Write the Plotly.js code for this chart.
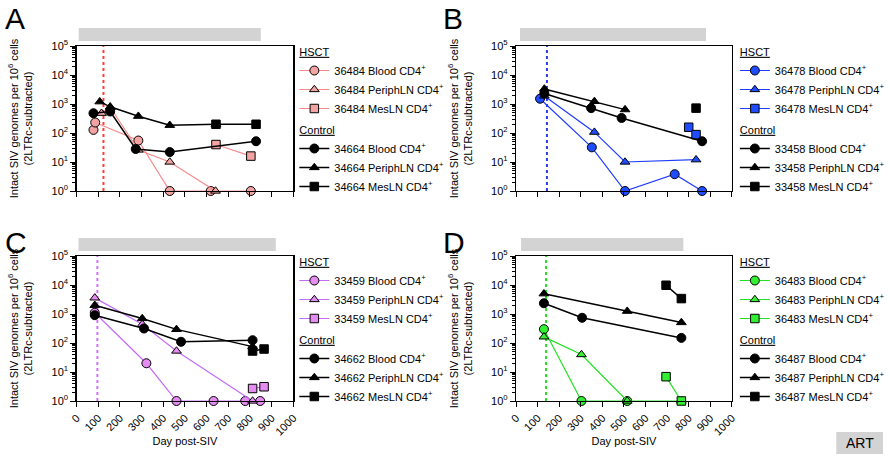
<!DOCTYPE html>
<html>
<head>
<meta charset="utf-8">
<script src="https://cdn.plot.ly/plotly-3.0.1.min.js"></script>
<style>html,body{margin:0;padding:0;background:#fff;}#chart{width:890px;height:458px;}</style>
</head>
<body>
<div id="chart"></div>
<script>
// ---------------- DATA ----------------
const panelLetters = ['A', 'B', 'C', 'D'];
const animalsHSCT = ['36484', '36478', '33459', '36483'];
const animalsControl = ['34664', '33458', '34662', '36487'];
const tissues = ['Blood', 'PeriphLN', 'MesLN'];
const artStart = [10, 18, 9, 23];
const artEnd = [850, 880, 919, 775];
const hsctDay = [124, 143, 96, 139];
const xTickVals = [0, 100, 200, 300, 400, 500, 600, 700, 800, 900, 1000];
const yTickVals = [1, 10, 100, 1000, 10000, 100000];
const yTickText = ['10<sup>0</sup>', '10<sup>1</sup>', '10<sup>2</sup>', '10<sup>3</sup>', '10<sup>4</sup>', '10<sup>5</sup>'];

// Panel A
const A_hsctBlood_x = [78, 86, 285, 430, 619, 804];
const A_hsctBlood_y = [128, 230, 55, 1, 1, 1];
const A_hsctPeriph_x = [115, 156, 285, 430, 641];
const A_hsctPeriph_y = [480, 760, 26, 10, 1];
const A_hsctMes_x = [643, 804];
const A_hsctMes_y = [40, 16];
const A_ctrlBlood_x = [78, 155, 273, 430, 828];
const A_ctrlBlood_y = [480, 550, 28, 22, 52];
const A_ctrlPeriph_x = [107, 155, 285, 430, 643];
const A_ctrlPeriph_y = [1200, 800, 380, 185, 200];
const A_ctrlMes_x = [643, 828];
const A_ctrlMes_y = [200, 200];

// Panel B
const B_hsctBlood_x = [111, 351, 505, 735, 862];
const B_hsctBlood_y = [1520, 32, 1, 3.8, 1];
const B_hsctPeriph_x = [131, 363, 505, 834];
const B_hsctPeriph_y = [1900, 107, 10, 12];
const B_hsctMes_x = [800, 834];
const B_hsctMes_y = [158, 88];
const B_ctrlBlood_x = [131, 348, 489, 862];
const B_ctrlBlood_y = [2300, 720, 330, 52];
const B_ctrlPeriph_x = [131, 363, 505];
const B_ctrlPeriph_y = [3300, 1230, 640];
const B_ctrlMes_x = [834];
const B_ctrlMes_y = [720];

// Panel C
const C_hsctBlood_x = [84, 322, 461, 632, 778, 847];
const C_hsctBlood_y = [1100, 20, 1, 1, 1, 1];
const C_hsctPeriph_x = [84, 303, 461, 812];
const C_hsctPeriph_y = [3600, 440, 53, 1];
const C_hsctMes_x = [812, 865];
const C_hsctMes_y = [2.7, 3.1];
const C_ctrlBlood_x = [84, 311, 482, 812];
const C_ctrlBlood_y = [910, 316, 110, 125];
const C_ctrlPeriph_x = [84, 303, 461, 812];
const C_ctrlPeriph_y = [2000, 700, 295, 75];
const C_ctrlMes_x = [812, 865];
const C_ctrlMes_y = [53, 62];

// Panel D
const D_hsctBlood_x = [129, 303, 515];
const D_hsctBlood_y = [300, 1, 1];
const D_hsctPeriph_x = [129, 303, 515, 766];
const D_hsctPeriph_y = [163, 40, 1, 1];
const D_hsctMes_x = [695, 766];
const D_hsctMes_y = [6.9, 1];
const D_ctrlBlood_x = [129, 306, 766];
const D_ctrlBlood_y = [2350, 740, 150];
const D_ctrlPeriph_x = [129, 515, 766];
const D_ctrlPeriph_y = [5000, 1250, 510];
const D_ctrlMes_x = [695, 766];
const D_ctrlMes_y = [9800, 3400];

// ---------------- STYLE / LAYOUT ----------------
const FONT = 'Arial, "Liberation Sans", sans-serif';
const FS = 11;
const W = 890, H = 458;
const colorSets = [
  {fill: '#f4a3a3', line: '#f7898a', dot: '#ff3b3b'},
  {fill: '#1f4cff', line: '#1f3cff', dot: '#2a3cf0'},
  {fill: '#e58cf0', line: '#c46cf7', dot: '#d070ff'},
  {fill: '#33ee33', line: '#22e022', dot: '#22dd22'}
];
const panelData = [
  {hsct: [[A_hsctBlood_x, A_hsctBlood_y], [A_hsctPeriph_x, A_hsctPeriph_y], [A_hsctMes_x, A_hsctMes_y]],
   ctrl: [[A_ctrlBlood_x, A_ctrlBlood_y], [A_ctrlPeriph_x, A_ctrlPeriph_y], [A_ctrlMes_x, A_ctrlMes_y]]},
  {hsct: [[B_hsctBlood_x, B_hsctBlood_y], [B_hsctPeriph_x, B_hsctPeriph_y], [B_hsctMes_x, B_hsctMes_y]],
   ctrl: [[B_ctrlBlood_x, B_ctrlBlood_y], [B_ctrlPeriph_x, B_ctrlPeriph_y], [B_ctrlMes_x, B_ctrlMes_y]]},
  {hsct: [[C_hsctBlood_x, C_hsctBlood_y], [C_hsctPeriph_x, C_hsctPeriph_y], [C_hsctMes_x, C_hsctMes_y]],
   ctrl: [[C_ctrlBlood_x, C_ctrlBlood_y], [C_ctrlPeriph_x, C_ctrlPeriph_y], [C_ctrlMes_x, C_ctrlMes_y]]},
  {hsct: [[D_hsctBlood_x, D_hsctBlood_y], [D_hsctPeriph_x, D_hsctPeriph_y], [D_hsctMes_x, D_hsctMes_y]],
   ctrl: [[D_ctrlBlood_x, D_ctrlBlood_y], [D_ctrlPeriph_x, D_ctrlPeriph_y], [D_ctrlMes_x, D_ctrlMes_y]]}
];
const symbols = ['circle', 'triangle-up', 'square'];
// pixel geometry of plot areas [left, right, top, bottom]
const boxes = [[77, 295, 46, 191], [519, 736, 46, 191], [77, 295, 256, 401], [519, 736, 256, 401]];
const barPx = [[28, 41], [28, 41], [238, 251], [238, 251]];
const legendPx = [[296, 37], [739, 37], [296, 247], [739, 247]];
const letterPx = [[3, 0], [443, 0], [3, 224], [443, 224]];

const traces = [];
const layout = {
  width: W, height: H,
  margin: {l: 0, r: 0, t: 0, b: 0},
  paper_bgcolor: '#ffffff', plot_bgcolor: '#ffffff',
  font: {family: FONT, size: FS, color: '#000'},
  shapes: [], annotations: []
};

for (let p = 0; p < 4; p++) {
  const sfx = p === 0 ? '' : String(p + 1);
  const xa = 'x' + sfx, ya = 'y' + sfx;
  const lg = 'legend' + sfx;
  const c = colorSets[p];
  const [l, r, t, b] = boxes[p];
  const bottomRow = p >= 2;

  const groups = [['hsct', animalsHSCT[p], '<u>HSCT</u>'], ['ctrl', animalsControl[p], '<u>Control</u>']];
  groups.forEach(([key, animal, title]) => {
    panelData[p][key].forEach(([xs, ys], i) => {
      const isH = key === 'hsct';
      traces.push({
        type: 'scatter', mode: 'lines+markers',
        x: xs, y: ys, xaxis: xa, yaxis: ya,
        name: animal + ' ' + tissues[i] + ' CD4<sup>+</sup>',
        legend: lg, legendgroup: key + p,
        legendgrouptitle: {text: title, font: {size: FS, family: FONT}},
        cliponaxis: false,
        line: {color: isH ? c.line : '#000', width: isH ? 1.2 : 1.5},
        marker: {symbol: symbols[i], size: i === 0 ? 9 : 8.5, color: isH ? c.fill : '#000',
                 line: {color: '#000', width: 1}}
      });
    });
  });

  layout['xaxis' + sfx] = {
    domain: [l / W, r / W], anchor: ya, range: [0, 1000], type: 'linear',
    tickvals: xTickVals, ticks: 'outside', ticklen: 5, tickwidth: 1, tickcolor: '#000',
    showticklabels: bottomRow, tickangle: -45, tickfont: {size: FS},
    showline: true, linecolor: '#000', linewidth: 1.3, mirror: true,
    showgrid: false, zeroline: false,
    title: bottomRow ? {text: 'Day post-SIV', font: {size: FS}, standoff: 0} : {text: ''}
  };
  layout['yaxis' + sfx] = {
    domain: [1 - b / H, 1 - t / H], anchor: xa, type: 'log', range: [0, 5],
    tickvals: yTickVals, ticktext: yTickText, ticks: 'outside', ticklen: 5, tickwidth: 1, tickcolor: '#000',
    minor: {ticks: 'outside', ticklen: 3, tickcolor: '#000', dtick: 'D1', showgrid: false},
    tickfont: {size: FS},
    showline: true, linecolor: '#000', linewidth: 1.3, mirror: true,
    showgrid: false, zeroline: false,
    title: {text: 'Intact SIV genomes per 10<sup>6</sup> cells<br>(2LTRc-subtracted)', font: {size: FS}, standoff: 16}
  };
  layout[lg] = {
    x: legendPx[p][0] / W, y: 1 - legendPx[p][1] / H, xanchor: 'left', yanchor: 'top',
    bgcolor: 'rgba(0,0,0,0)', borderwidth: 0, font: {size: FS, family: FONT},
    tracegroupgap: 2, itemclick: false, itemdoubleclick: false
  };
  // ART bar
  layout.shapes.push({
    type: 'rect', xref: xa, yref: 'paper', x0: artStart[p], x1: artEnd[p],
    y0: 1 - barPx[p][1] / H, y1: 1 - barPx[p][0] / H,
    fillcolor: '#d3d3d3', line: {width: 0}, layer: 'above'
  });
  // HSCT day dotted line
  layout.shapes.push({
    type: 'line', xref: xa, yref: ya + ' domain', x0: hsctDay[p], x1: hsctDay[p], y0: 0, y1: 1,
    line: {color: c.dot, width: 2, dash: 'dot'}, layer: 'below'
  });
  // panel letter
  layout.annotations.push({
    text: panelLetters[p], xref: 'paper', yref: 'paper',
    x: letterPx[p][0] / W, y: 1 - letterPx[p][1] / H, xanchor: 'left', yanchor: 'top',
    showarrow: false, font: {size: 30, family: FONT, color: '#000'}
  });
}

// ART key box
layout.shapes.push({
  type: 'rect', xref: 'paper', yref: 'paper', x0: 841 / W, x1: 888 / W, y0: 1 - 454 / H, y1: 1 - 432 / H,
  fillcolor: '#d3d3d3', line: {width: 0}
});
layout.annotations.push({
  text: 'ART', xref: 'paper', yref: 'paper', x: 864.5 / W, y: 1 - 443 / H,
  xanchor: 'center', yanchor: 'middle', showarrow: false, font: {size: 14, family: FONT, color: '#000'}
});

Plotly.newPlot('chart', traces, layout, {staticPlot: true, displayModeBar: false});
</script>
</body>
</html>
